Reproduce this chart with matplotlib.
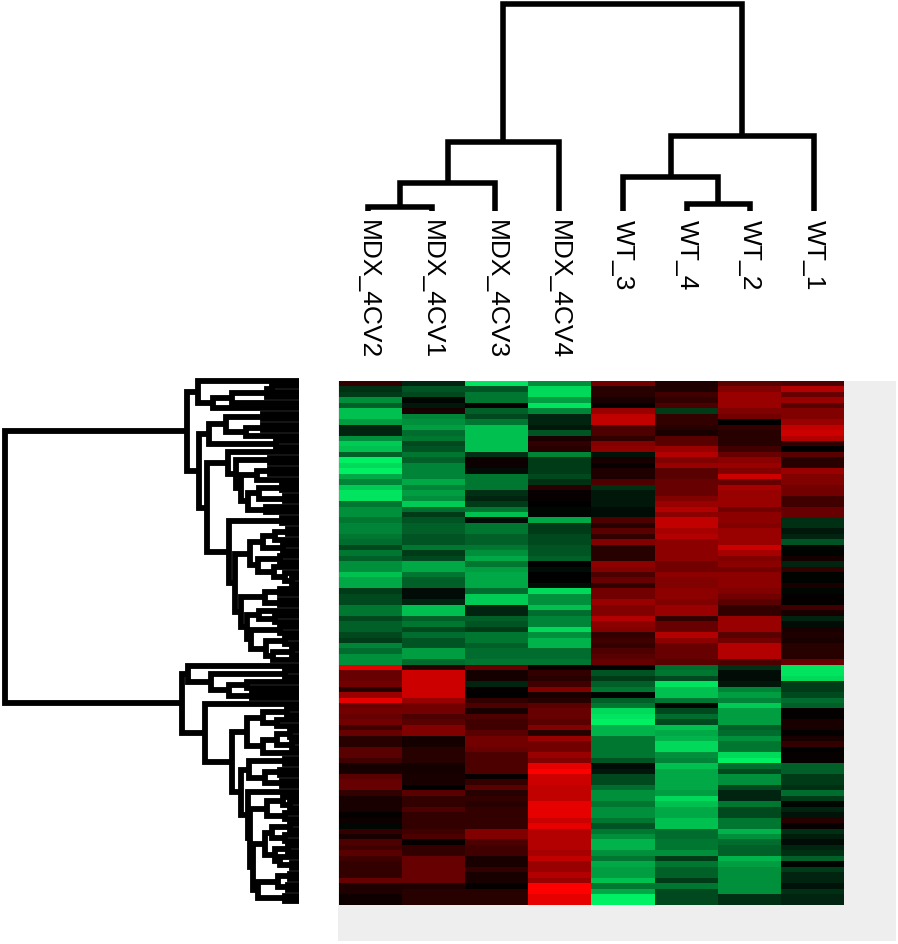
import numpy as np
import matplotlib
matplotlib.use('Agg')
import matplotlib.pyplot as plt
from matplotlib.colors import LinearSegmentedColormap

plt.rcParams['font.family'] = ['Liberation Sans', 'DejaVu Sans']

W, H = 898, 945

sample_labels = ['MDX_4CV2', 'MDX_4CV1', 'MDX_4CV3', 'MDX_4CV4', 'WT_3', 'WT_4', 'WT_2', 'WT_1']

# heatmap values, one list per sample, top row first (-10 green ... 10 red)
mdx_4cv2 = [2, -2, -2.5, -6, -4, -8, -8, -6.5, -1.5, -1.5, -6, -8.5, -8, -4, -10, -9, -10, -7, -5.5, -8.5, -9.5, -9.5, -5, -6, -6, -5,
            -5.5, -5.5, -5, -4.5, -3, -5, -4, -6, -6, -8, -7, -7, -2.5, -3, -3, -5, -5, -3, -4, -4, -3, -2.5, -5.5, -4.5, -6, -6,
            9, 4, 4, 4.5, 1.5, 6, 9, 4, 4.5, 4, 4.5, 2.5, 4, 1.5, 1.5, 3.5, 3.5, 2.5, 0.8, 1, 3.5, 4, 4,
            2, 1, 1, 1, 0.2, 0.5, -0.3, 2, 1, 3, 2.5, 3.5, 2.5, 2, 2, 2, 4, 1.2, 1.2, 0.6, 0.6]
mdx_4cv1 = [-1.5, -3.5, -3, -0.3, -1, 1, -5.5, -6, -6.5, -4.5, -5, -3, -3.5, -5, -4, -5.5, -5.5, -5.5, -7, -5.5, -6.5, -6, -8.5, -4.5, -2.5, -3.5,
            -4, -4, -3.5, -3.5, -5, -2.5, -3, -7, -7, -5, -4, -4, -0.5, -0.5, -1.5, -8, -8, -4, -5, -3, -4.5, -3.5, -3.5, -6.5, -6.5, -4.5,
            1.5, 8, 8, 8, 8, 8, 6, 4.5, 4.5, 3, 3.5, 5, 5, 0.8, 0.8, 1.5, 1.5, 1.5, 0.8, 0.8, 1, 1, 0,
            3.5, 2, 2, 3, 2, 2, 2, 2.5, 3, 0.3, 2, 2, 4, 4, 4, 4, 4, 1.2, 1.5, 1.5, 1.5]
mdx_4cv3 = [-9.5, -3.5, -5, -5, 0.3, -4, -3, -5, -8, -8, -8, -8, -8, -2, 0.5, 0.5, -0.5, -5, -5, -5, -2, -1.5, -2.5, -5, -8, -0.5,
            -5, -5, -4, -4, -5, -6, -7, -5, -6.5, -7, -7, -7, -4.5, -8.5, -8.5, -1.5, -1.5, -4, -3.5, -2.5, -5, -5, -4, -4.5, -4.5, -5,
            4, 0.8, 0.8, -1.5, 0.2, 0, 2, 3, 1, 3, 2.5, 2.5, 3.5, 4.5, 4.5, 4, 3, 3, 3, 3, 0.3, 2, 3.5,
            1.5, 2, 1.5, 2, 2, 2, 2, 5, 5, 3, 2.5, 2.5, 1, 1, 2, 1, 1, 0.2, 1.5, 1.5, 1.5]
mdx_4cv4 = [-6, -9, -9, -6.5, -9.5, -5.5, -1.5, -1.5, -1, -3.5, 1, 2, 1.5, -5.5, -2.5, -2.5, -2.5, -3, -2, 1.5, 0.3, 0.3, 0, -0.3, -0.3, -7,
            -2.5, -2.5, -3, -3, -3.5, -3.5, -4, 0, -0.5, 0, 0, -0.5, -9, -6, -6, -8, -4.5, -5.5, -5.5, -9, -6, -7.5, -7.5, -4.5, -4.5, -5,
            0.3, 2, 1.5, 2.5, 5, 1, 1.5, 3.5, 4, 4, 3.5, 5, 1.5, 6, 4.5, 4.5, 6, 5, 9, 10, 8, 8, 7.5,
            7.5, 7.5, 9, 9, 9, 8, 9, 7, 7, 7, 7, 6.5, 7.5, 6, 6, 7, 6, 10, 10, 9, 9]
wt_3 = [4.5, 1.5, 1.5, 1, 0.2, 6, 7.5, 7.5, 3, 3, 2, 5, 5.5, -0.8, 1, 0.3, 1.2, 1.2, 3, -2, -1, -1, -1, -0.5, -0.5, 3,
        1.5, 3.5, 2, 5, 1.5, 1.5, 1.5, 5.5, 5, 3, 4, 2, 4.5, 4.5, 6, 5, 5, 7, 5.5, 5, 2, 2.5, 2, 3, 3.5, 4,
        -0.2, -3.5, -2.5, -4, -5, -0.2, -4, -5, -9, -9.5, -10, -7.5, -7.5, -5, -5, -5, -5, -3.5, -0.5, -1, -3, -3, -4.5,
        -6, -6, -5, -6, -6, -5, -3.5, -5, -6, -7.5, -7.5, -6, -5, -7, -6.5, -6.5, -8, -5, -7, -10, -10]
wt_4 = [1.2, 1.2, 2.5, 2, 3, -2.5, 2, 2, 1.5, 1, 3.5, 3.5, 6, 7, 5, 6, 3.5, 3.5, 4, 4, 4, 5, 6, 7, 5.5, 7.5,
        7.5, 6.5, 7, 5.5, 5.5, 5.5, 5.5, 4.5, 4.5, 5.5, 5, 5, 5.5, 5.5, 5, 6, 6, 2, 4, 4, 7, 5.5, 4, 4, 4, 3.5,
        -4.5, -5, -3, -9.5, -8, -8, -5, -0.3, -3, -4.5, -3, -8, -7, -7.5, -9, -9, -6, -5.5, -8, -7, -7, -7, -7,
        -6.5, -9, -8, -7, -7, -8, -8, -4.5, -4.5, -5, -5, -6, -2.5, -5, -4, -4, -2.5, -5, -3, -3, -3]
wt_2 = [3.5, 5, 6, 6, 6, 5, 4.5, 0, 2, 1.5, 1.5, 1.5, 2.5, 4, 5.5, 6, 5, 8, 4, 6.5, 6, 6, 6, 4.5, 5.5, 5.5,
        5, 6, 6, 6, 8, 6.5, 5, 5.5, 4.5, 5.5, 5.5, 5.5, 5, 4.5, 3.5, 2, 2, 6, 6, 6, 3.5, 4.5, 7, 7, 7, 3,
        -2, -0.5, -0.5, -1, -5.5, -6.5, -5.5, -8.5, -6.5, -6.5, -6.5, -4, -4.5, -6, -5, -5, -9, -10, -4.5, -3, -6, -6, -3,
        -1.5, -1.5, -5, -3, -3, -5, -5, -7.5, -6, -4.5, -4, -4, -7.5, -6.5, -6, -6, -6, -6, -6, -2, -2]
wt_1 = [3, 7, 4, 6, 3.5, 5, 5, 6, 7.5, 8, 7, 2, 0, 3.5, 1.5, 1.5, 6, 5, 5, 4.5, 4.5, 2.5, 2.5, 4, 4, -2,
        -2, -1, -1.5, -3.5, -0.3, -0.2, 0.8, -1.5, 2, -0.2, -0.2, 1, -0.3, 0.2, 0.2, 2.5, 1, -1.5, -0.5, 1, 1.2, 1, 1.5, 1.5, 1.5, 4,
        -9.5, -9.5, -9, -2.5, -2.5, -3, -4.5, -4, 0.2, 0.2, 1, 1, 0.2, 1, 2, 0, 0.3, 0.3, -4, -4, -2.5, -2.5, -2,
        -4.5, -2.5, -0.3, -1.5, -0.8, 1.5, 0.3, -2, -1.2, -0.5, -1.5, -2, -4, -0.2, -2.5, -1.5, -1.5, -0.8, -2, -1.5, -1.5]

# dendrograms: (height, first child, second child), 0 is a leaf
top_tree = (207,
            (69, (28, (4, 0, 0), 0), 0),
            (75, (34, 0, (7, 0, 0)), 0))

# gene tree, upper block (rows 0-51)
block_b = (101, 0, (86, (67, (32, (27, 0, 0), 0), 0), 0))
block_c1 = (90, (73, (36, 0, 0), (53, (36, 0, 0), 0)), (23, 0, 0))
block_e = (63, (29, 0, 0),
           (58, (42, (29, 0, 0), 0),
            (51, (40, (17, 0, 0), (14, 0, 0)), (33, 0, 0))))
block_p = (49, (36, (24, (11, 0, 0), 0), (16, 0, 0)),
           (41, (19, 0, 0), (25, 0, (14, 0, (7, 0, 0)))))
block_s = (48, (19, 0, 0), (33, (14, 0, 0), (26, (7, 0, 0), 0)))
block_m = (58, (34, (19, 0, 0), (19, 0, 0)),
           (52, (40, 0, (24, 0, 0)), block_s))
block_d = (92, (71, 0, block_e),
           (70, (17, 0, 0), (64, block_p, block_m)))
upper_tree = (112, block_b, (100, (90, block_c1[1], block_c1[2]), block_d))

# gene tree, lower block (rows 52-95)
block_v = (88, (14, 0, 0),
           (70, (52, 0, 0), (47, 0, 0)))
block_x1 = (52, (36, (12, 0, 0), (22, 0, 0)),
            (36, (22, (9, 0, 0), (7, 0, 0)), 0))
block_y1 = (50, (14, 0, 0), (34, (19, 0, 0), (17, 0, 0)))
block_z = (46, (34, (27, (9, 0, 0), (14, 0, 0)),
                (24, (11, 0, 0), (19, 0, (7, 0, 0)))),
           (41, (21, (9, 0, 0), (11, 0, 0)), (14, 0, 0)))
block_y2 = (51, 0, (49, (32, (16, 0, (9, 0, 0)), (14, 0, 0)), block_z))
lower_tree = (117, (111, 0, block_v),
              (94, 0, (67, block_x1, (58, block_y1, block_y2))))

gene_tree = (294, upper_tree, lower_tree)


def px_axes(fig, left, top, right, bottom):
    ax = fig.add_axes([left / W, 1 - bottom / H, (right - left) / W, (bottom - top) / H])
    ax.axis('off')
    return ax


def draw_tree(ax, node, counter, vertical, lw):
    # returns (leaf position, height) of the node, leaves are numbered from 0
    if node == 0:
        pos = counter[0]
        counter[0] += 1
        return pos, 0
    height, first, second = node
    pos1, h1 = draw_tree(ax, first, counter, vertical, lw)
    pos2, h2 = draw_tree(ax, second, counter, vertical, lw)
    hs = [h1, height, height, h2]
    ps = [pos1, pos1, pos2, pos2]
    if vertical:
        ax.plot(ps, hs, color='black', lw=lw, solid_joinstyle='miter', solid_capstyle='butt', clip_on=False)
    else:
        ax.plot(hs, ps, color='black', lw=lw, solid_joinstyle='miter', solid_capstyle='butt', clip_on=False)
    return (pos1 + pos2) / 2, height


fig = plt.figure(figsize=(W / 100, H / 100), dpi=100, facecolor='white')

# grey panel behind the heatmap
panel = px_axes(fig, 338, 382, 896, 942)
panel.axis('on')
panel.set_facecolor('#eeeeee')
panel.set_xticks([])
panel.set_yticks([])
for s in panel.spines.values():
    s.set_visible(False)

cmap = LinearSegmentedColormap.from_list('gbr', [(0, 240 / 255, 100 / 255), (0, 0, 0), (1, 0, 0)])
matrix = np.array([mdx_4cv2, mdx_4cv1, mdx_4cv3, mdx_4cv4, wt_3, wt_4, wt_2, wt_1]).T

ax_heat = px_axes(fig, 339, 382, 844, 906)
ax_heat.imshow(matrix, cmap=cmap, vmin=-10, vmax=10, aspect='auto', interpolation='nearest')

ax_top = px_axes(fig, 368, 5, 814, 212)
ax_top.set_xlim(0, len(sample_labels) - 1)
ax_top.set_ylim(0, 207)
draw_tree(ax_top, top_tree, [0], True, 4.0)
for i, label in enumerate(sample_labels):
    ax_top.text(i, -8, label, rotation=-90, ha='center', va='top', fontsize=19, color='black', clip_on=False)

ax_left = px_axes(fig, 5, 382, 299, 902)
ax_left.set_xlim(294, 0)
ax_left.set_ylim(matrix.shape[0] - 1, 0)
draw_tree(ax_left, gene_tree, [0], False, 4.2)

fig.savefig('out.png', dpi=100)
